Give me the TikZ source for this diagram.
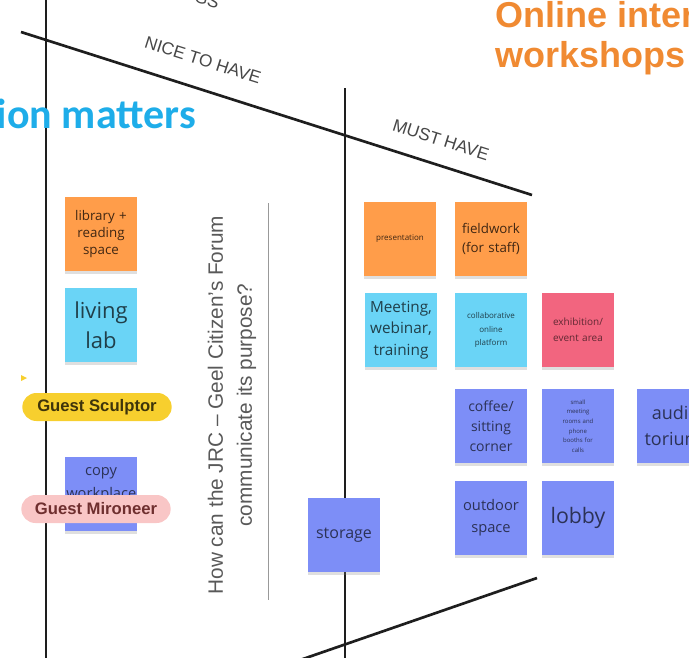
\documentclass[tikz,border=0pt]{standalone}
\usepackage{fontspec}
\setmainfont{Liberation Sans}
\newfontfamily\notefont{Open Sans}
\newfontfamily\titlefont{Carlito}
\usetikzlibrary{shadows}
\definecolor{noteorange}{HTML}{FF9D4A}
\definecolor{notecyan}{HTML}{6AD4F6}
\definecolor{noteviolet}{HTML}{7D8EF7}
\definecolor{notered}{HTML}{F2657F}
\definecolor{pillyellow}{HTML}{F7CF2E}
\definecolor{pillpink}{HTML}{F9C6C6}
\definecolor{titleblue}{HTML}{1EADE9}
\definecolor{titleorange}{HTML}{F08A32}
\definecolor{boardline}{HTML}{1E1E1E}
\newcommand*{\fs}[2]{\fontsize{#1}{#2}\selectfont}
\tikzset{
  board/.style={boardline, line width=2pt},
  havelabel/.style={text=black!72, font=\fs{13}{15}, rotate=-17.7, inner sep=0pt},
  nf/.style 2 args={font=\notefont\fs{#1}{#2}},
  sticky/.style={minimum width=54pt, minimum height=56pt, inner sep=1pt,
    text width=52pt, align=center,
    drop shadow={shadow xshift=0pt, shadow yshift=-1.8pt, opacity=.25}},
  orangenote/.style={sticky, fill=noteorange, text=noteorange!25!black},
  cyannote/.style={sticky, fill=notecyan, text=notecyan!30!black},
  violetnote/.style={sticky, fill=noteviolet, text=noteviolet!35!black},
  rednote/.style={sticky, fill=notered, text=notered!40!black},
  pill/.style={rounded corners=10.5pt, minimum width=112pt, minimum height=21pt,
    inner sep=0pt, font=\bfseries\fs{12.5}{14}},
}

\begin{document}
\begin{tikzpicture}[x=0.75pt,y=-0.75pt]
\useasboundingbox (0,0) rectangle (689,657);
\clip (0,0) rectangle (689,657);
% board lines
\coordinate (tl) at (21,32);
\coordinate (tr) at (532,195);
\coordinate (bl) at (300,660);
\coordinate (br) at (537,578);
\draw[board] (46,0) -- (46,660);
\draw[board] (345,88) -- (345,660);
\draw[board] (tl) -- (tr);
\draw[board] (bl) -- (br);
\node[havelabel] (cut) at (207,0) {GS};
\node[havelabel] (nice) at (203,60) {NICE TO HAVE};
\node[havelabel] (must) at (441,140) {MUST HAVE};
% titles
\node[anchor=base east, inner sep=0pt, text=titleblue, font=\titlefont\bfseries\fs{31.5}{36}] (matters) at (196,128) {ion matters};
\node[anchor=base west, inner sep=0pt, text=titleorange, font=\bfseries\fs{27}{30}] (online) at (495,27) {Online inter};
\node[anchor=base west, inner sep=0pt, text=titleorange, font=\bfseries\fs{27}{30}] (workshops) at (495,67) {workshops};
% question
\draw[black!40, line width=.7pt] (268,203) -- (268,600);
\node[rotate=90, align=center, text=black!65, font=\fs{15.6}{21.75}] (question) at (232,405)
  {How can the JRC -- Geel Citizen's Forum\\communicate its purpose?};
% nice to have
\node[orangenote, nf={10}{13}] (library) at (101,234) {library +\\reading\\space};
\node[cyannote, nf={16.5}{22.5}] (living) at (101,325) {living\\lab};
\node[violetnote, nf={11}{17}] (copy) at (101,494) {copy\\workplace\\~};
\fill[pillyellow] (21,375) -- (27,378) -- (21,381) -- cycle;
\node[pill, fill=pillyellow, text=pillyellow!25!black] (sculptor) at (97,407) {Guest Sculptor};
\node[pill, fill=pillpink, text=pillpink!30!black!80!red] (mironeer) at (96,509) {Guest Mironeer};
% must have
\node[violetnote, nf={12}{15}] (storage) at (344,535) {storage};
\node[orangenote, nf={6}{8}] (presentation) at (400,239) {presentation};
\node[orangenote, nf={10}{14}] (fieldwork) at (491,239) {fieldwork\\(for staff)};
\node[cyannote, nf={11.5}{16}] (meeting) at (401,330) {Meeting,\\webinar,\\training};
\node[cyannote, nf={6}{10}] (collab) at (491,330) {collaborative\\online\\platform};
\node[rednote, nf={7.5}{12}] (exhibition) at (578,330) {exhibition/\\event area};
\node[violetnote, nf={10.5}{15}] (coffee) at (491,426) {coffee/\\sitting\\corner};
\node[violetnote, nf={4.5}{7.2}] (small) at (578,426) {small\\meeting\\rooms and\\phone\\booths for\\calls};
\node[violetnote, nf={13.5}{19.5}] (audi) at (673,426) {audi-\\torium};
\node[violetnote, nf={11}{16.5}] (outdoor) at (491,518) {outdoor\\space};
\node[violetnote, nf={16}{20}] (lobby) at (578,518) {lobby};
\end{tikzpicture}
\end{document}
